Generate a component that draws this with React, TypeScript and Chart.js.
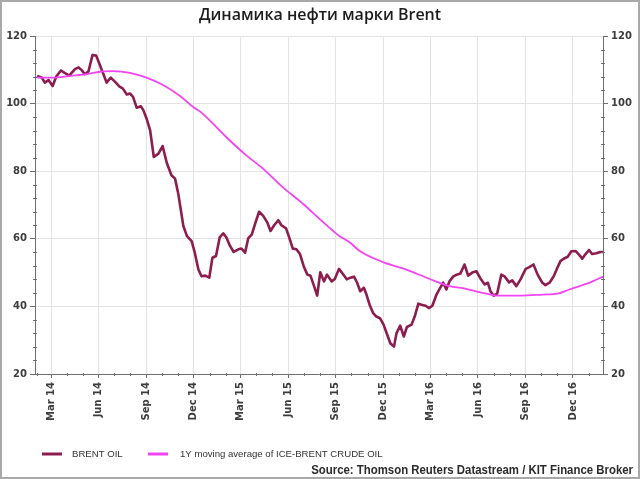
import React, { useEffect, useRef } from "react";
import { Chart, registerables } from "chart.js";

Chart.register(...registerables);

// x values are days counted from 1 Feb 2014
const BASE = Date.UTC(2014, 1, 1);
const dayOf = (y: number, m: number) => (Date.UTC(y, m - 1, 1) - BASE) / 86400000;

const quarterLabels = ["Mar 14", "Jun 14", "Sep 14", "Dec 14", "Mar 15", "Jun 15", "Sep 15", "Dec 15", "Mar 16", "Jun 16", "Sep 16", "Dec 16"];
const quarterYears = [2014, 2014, 2014, 2014, 2015, 2015, 2015, 2015, 2016, 2016, 2016, 2016];
const quarterMonths = [3, 6, 9, 12, 3, 6, 9, 12, 3, 6, 9, 12];

const yTicks = [20, 40, 60, 80, 100, 120];

const brentDays = [1, 10, 16, 23, 31, 38, 47, 55, 63, 74, 81, 87, 93, 100, 108, 115, 122, 129, 135, 143, 151, 160, 166, 174, 180, 186, 193, 201, 206, 212, 219, 226, 235, 243, 251, 260, 267, 273, 283, 290, 299, 305, 312, 318, 325, 333, 339, 346, 353, 360, 366, 373, 380, 389, 395, 402, 408, 415, 421, 429, 437, 445, 451, 458, 466, 472, 481, 487, 494, 501, 508, 515, 522, 528, 535, 541, 547, 554, 560, 569, 575, 583, 591, 598, 605, 612, 618, 624, 631, 636, 642, 649, 655, 662, 669, 676, 682, 689, 694, 701, 708, 714, 723, 729, 736, 742, 750, 757, 763, 771, 777, 784, 790, 796, 803, 810, 817, 825, 832, 840, 848, 856, 864, 870, 875, 881, 888, 896, 902, 911, 917, 925, 933, 943, 950, 958, 966, 975, 981, 989, 997, 1003, 1010, 1016, 1024, 1031, 1039, 1047, 1052, 1058, 1065, 1071, 1079, 1087, 1092];
const brentPrice = [108.2, 107.7, 106.2, 107.0, 105.2, 108, 109.8, 109, 108.3, 110.2, 110.7, 109.9, 108.7, 109.5, 114.4, 114.2, 111.4, 108.7, 106.2, 107.7, 106.5, 105, 104.5, 102.7, 103, 102, 98.8, 99.2, 98, 95.6, 92.1, 84.2, 85.2, 87.4, 82.5, 78.8, 77.8, 73.5, 63.8, 60.8, 59.3, 55.9, 50.9, 48.9, 49.1, 48.5, 54.4, 54.9, 60.4, 61.6, 60.4, 57.9, 56.1, 56.9, 57.1, 55.9, 60.1, 61.3, 64.3, 68, 66.8, 64.8, 62.3, 64, 65.5, 64, 63.1, 60.4, 57.1, 56.9, 55.4, 51.9, 49.4, 49.1, 46, 43.2, 50.1, 47.4, 49.4, 47.4, 48.1, 51.1, 49.5, 48, 48.5, 48.8, 47, 44.5, 45.5, 43.5, 40.5, 38, 37, 36.5, 34.6, 31.6, 29.1, 28.1, 32.1, 34.3, 31.1, 33.9, 34.6, 37, 40.8, 40.5, 40.2, 39.5, 40.2, 43.5, 45.2, 47, 45, 47.4, 48.8, 49.4, 49.7, 52.4, 49.1, 50, 50.4, 48.2, 46.5, 47, 44.5, 43.2, 43.8, 49.4, 48.9, 47.1, 47.7, 46, 48, 51.1, 51.6, 52.4, 49.4, 47, 46.3, 47, 48.9, 51.1, 53.4, 54.1, 54.7, 56.3, 56.4, 55.1, 54.1, 55.4, 56.7, 55.5, 55.7, 56.1, 56.1];

const maDays = [1, 32, 65, 97, 126, 148, 180, 212, 244, 276, 302, 315, 369, 405, 437, 475, 514, 546, 572, 585, 604, 623, 668, 713, 758, 796, 828, 854, 867, 886, 931, 976, 1005, 1027, 1047, 1072, 1092];
const maValue = [107.7, 107.7, 108.2, 108.7, 109.5, 109.6, 109.1, 107.7, 105.5, 102.3, 99.0, 97.7, 89.6, 84.6, 80.7, 75.2, 70.3, 65.8, 62.3, 60.7, 58.9, 56.4, 53.1, 50.9, 48.1, 46, 45.2, 44.2, 43.8, 43.2, 43.2, 43.5, 43.8, 45, 46, 47.4, 48.8];

const seriesNames = ["BRENT OIL", "1Y moving average of ICE-BRENT CRUDE OIL"];
const titleText = "Динамика нефти марки Brent";
const sourceText = "Source: Thomson Reuters Datastream / KIT Finance Broker";

const BRENT_COLOR = "#8c1d4e";
const MA_COLOR = "#f244f2";
const AXIS_COLOR = "#6e6e6e";
const GRID_COLOR = "#e3e3e3";
const TICK_FONT = "'DejaVu Sans', sans-serif";

const quarterDays = quarterYears.map((y, i) => dayOf(y, quarterMonths[i]));
const monthDays: number[] = [];
for (let y = 2014; y <= 2017; y++) {
  for (let m = 1; m <= 12; m++) {
    const d = dayOf(y, m);
    if (d >= 0 && d <= 1092) monthDays.push(d);
  }
}

const decorPlugin = {
  id: "decor",
  afterDraw(chart: any) {
    const ctx = chart.ctx as CanvasRenderingContext2D;
    const x = chart.scales.x;
    const yl = chart.scales.y;
    const yr = chart.scales.y2;
    ctx.save();
    ctx.strokeStyle = AXIS_COLOR;
    ctx.lineWidth = 1;
    ctx.beginPath();
    // minor y ticks every 4
    for (let v = 24; v < 120; v += 4) {
      if (v % 20 === 0) continue;
      const py = Math.round(yl.getPixelForValue(v)) + 0.5;
      ctx.moveTo(yl.right - 2, py);
      ctx.lineTo(yl.right + 2, py);
      ctx.moveTo(yr.left - 2, py);
      ctx.lineTo(yr.left + 2, py);
    }
    // minor monthly x ticks
    monthDays.forEach((d) => {
      if (quarterDays.includes(d)) return;
      const px = Math.round(x.getPixelForValue(d)) + 0.5;
      ctx.moveTo(px, x.top - 1);
      ctx.lineTo(px, x.top + 2);
    });
    ctx.stroke();

    // legend
    const ly = 454;
    ctx.lineWidth = 3;
    ctx.strokeStyle = BRENT_COLOR;
    ctx.beginPath();
    ctx.moveTo(42, ly);
    ctx.lineTo(62, ly);
    ctx.stroke();
    ctx.strokeStyle = MA_COLOR;
    ctx.beginPath();
    ctx.moveTo(148, ly);
    ctx.lineTo(168, ly);
    ctx.stroke();
    ctx.fillStyle = "#333333";
    ctx.textBaseline = "middle";
    ctx.textAlign = "left";
    ctx.font = "9.6px 'Liberation Sans', sans-serif";
    ctx.fillText(seriesNames[0], 72, ly);
    ctx.fillText(seriesNames[1], 180, ly);

    // source (slightly condensed)
    ctx.save();
    ctx.translate(633, 471);
    ctx.scale(0.95, 1);
    ctx.textAlign = "right";
    ctx.fillStyle = "#2b2b2b";
    ctx.font = "bold 12px 'Liberation Sans', sans-serif";
    ctx.fillText(sourceText, 0, 0);
    ctx.restore();

    // outer frame
    ctx.strokeStyle = "#a8a8a8";
    ctx.lineWidth = 2;
    ctx.strokeRect(1, 1, chart.width - 2, chart.height - 2);
    ctx.restore();
  },
};

export default function App() {
  const ref = useRef<HTMLCanvasElement>(null);
  useEffect(() => {
    if (!ref.current) return;
    const yAxisBase = (position: "left" | "right", width: number, onArea: boolean) => ({
      type: "linear" as const,
      position,
      min: 20,
      max: 120,
      afterBuildTicks: (s: any) => {
        s.ticks = yTicks.map((v) => ({ value: v }));
      },
      afterFit: (s: any) => {
        s.width = width;
      },
      border: { display: true, color: AXIS_COLOR, width: 1 },
      grid: {
        drawOnChartArea: onArea,
        color: GRID_COLOR,
        tickColor: AXIS_COLOR,
        tickLength: 5,
      },
      ticks: {
        color: "#3c3c3c",
        padding: 3,
        font: { family: TICK_FONT, size: 10, weight: "bold" as const },
      },
    });
    const chart = new Chart(ref.current, {
      type: "line",
      data: {
        datasets: [
          {
            label: seriesNames[1],
            data: maDays.map((d, i) => ({ x: d, y: maValue[i] })),
            borderColor: MA_COLOR,
            backgroundColor: MA_COLOR,
            borderWidth: 1.8,
            pointRadius: 0,
            cubicInterpolationMode: "monotone",
            order: 0,
          },
          {
            label: seriesNames[0],
            data: brentDays.map((d, i) => ({ x: d, y: brentPrice[i] })),
            borderColor: BRENT_COLOR,
            backgroundColor: BRENT_COLOR,
            borderWidth: 2.6,
            pointRadius: 0,
            tension: 0,
            borderJoinStyle: "round",
            order: 1,
          },
        ],
      },
      options: {
        animation: false,
        responsive: false,
        maintainAspectRatio: false,
        layout: { padding: 0 },
        plugins: {
          legend: { display: false },
          tooltip: { enabled: false },
          title: {
            display: true,
            text: titleText,
            color: "#1c1c1c",
            font: { family: "'Open Sans', sans-serif", size: 16, weight: "600" },
            padding: { top: 6, bottom: 10.8 },
          },
        },
        scales: {
          x: {
            type: "linear",
            position: "bottom",
            min: -3,
            max: 1092,
            afterBuildTicks: (s: any) => {
              s.ticks = quarterDays.map((v) => ({ value: v }));
            },
            afterFit: (s: any) => {
              s.height = 105;
            },
            border: { display: true, color: AXIS_COLOR, width: 1 },
            grid: { color: GRID_COLOR, tickColor: AXIS_COLOR, tickLength: 4 },
            ticks: {
              autoSkip: false,
              maxRotation: 90,
              minRotation: 90,
              padding: 4,
              color: "#3c3c3c",
              font: { family: TICK_FONT, size: 10, weight: "bold" },
              callback: (_v: any, i: number) => quarterLabels[i],
            },
          },
          y: yAxisBase("left", 35, true),
          y2: yAxisBase("right", 37, false),
        },
      },
      plugins: [decorPlugin],
    } as any);
    return () => chart.destroy();
  }, []);
  return (
    <div style={{ position: "fixed", left: 0, top: 0, width: 640, height: 479, background: "#ffffff" }}>
      <canvas ref={ref} width={640} height={479} style={{ display: "block", width: 640, height: 479 }} />
    </div>
  );
}
